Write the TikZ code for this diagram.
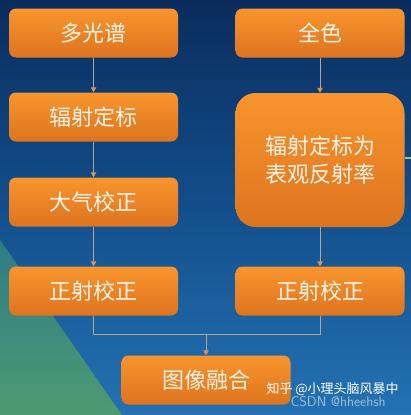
\documentclass[tikz,border=0pt]{standalone}
\usepackage{fontspec}
\newfontfamily\cjk{Noto Sans CJK SC}
\usetikzlibrary{positioning,arrows.meta,calc}
\definecolor{boxtop}{HTML}{F8952D}
\definecolor{boxbot}{HTML}{DD7420}
\definecolor{lnk}{HTML}{B9A48F}
\definecolor{tipc}{HTML}{D39563}
\definecolor{bgtop}{HTML}{0A2C5D}
\definecolor{bgmid}{HTML}{134F8C}
\definecolor{bgbot}{HTML}{2472B2}
\definecolor{tealtop}{HTML}{2F7C86}
\definecolor{tealbot}{HTML}{4E9A72}
\definecolor{wtext}{HTML}{FDF4E8}

\begin{document}
\begin{tikzpicture}[x=1pt,y=-1pt,node distance=84pt,on grid,
  box/.style={rectangle,rounded corners=7pt,minimum width=169pt,minimum height=49pt,
    top color=boxtop,bottom color=boxbot,text=wtext,align=center,
    font=\cjk\fontsize{22}{28}\selectfont},
  link/.style={draw=lnk,line width=0.9pt},
  arr/.style={link,-{Triangle[length=5pt,width=5.5pt,color=tipc]}}]
\useasboundingbox (0,0) rectangle (411,415);
% background
\shade[top color=bgtop,bottom color=bgmid] (0,0) rectangle (411,210);
\shade[top color=bgmid,bottom color=bgbot] (0,210) rectangle (411,415);
\shade[top color=tealtop,bottom color=tealbot] (0,240) -- (122,415) -- (0,415) -- cycle;
% boxes
\node[box] (mult) at (93.5,33) {多光谱};
\node[box,right=226.5pt of mult] (pan) {全色};
\node[box,below=of mult] (radcal) {辐射定标};
\node[box,below=85pt of radcal] (atmos) {大气校正};
\node[box,below=89pt of atmos] (orthoL) {正射校正};
\node[box,below=127pt of pan,minimum height=134pt,rounded corners=20pt] (refl) {辐射定标为\\表观反射率};
\node[box,right=226.5pt of orthoL] (orthoR) {正射校正};
\node[box] (fusion) at (206,380) {图像融合};
% connectors
\draw[arr] (mult) -- (radcal);
\draw[arr] (radcal) -- (atmos);
\draw[arr] (atmos) -- (orthoL);
\draw[arr] (pan) -- (refl);
\draw[arr] (refl) -- (orthoR);
\coordinate (merge) at ($(orthoL.south)+(0,19)$);
\draw[link] (orthoL.south) -- (merge) -| (orthoR.south);
\draw[arr] (merge -| fusion.north) -- (fusion.north);
\coordinate (offR) at (411,158);
\draw[draw={rgb,255:red,140;green,205;blue,120},line width=2pt] (refl.east |- offR) -- (offR);
% watermark
\node[text=white,font=\cjk\fontsize{13}{15}\selectfont,anchor=west] (zh) at (263,389) {知乎 @小理头脑风暴中};
\node[text=white,opacity=0.55,font=\sffamily\fontsize{14}{16}\selectfont,anchor=west] (csdn) at (287,402) {CSDN @hheehsh};
\end{tikzpicture}
\end{document}
